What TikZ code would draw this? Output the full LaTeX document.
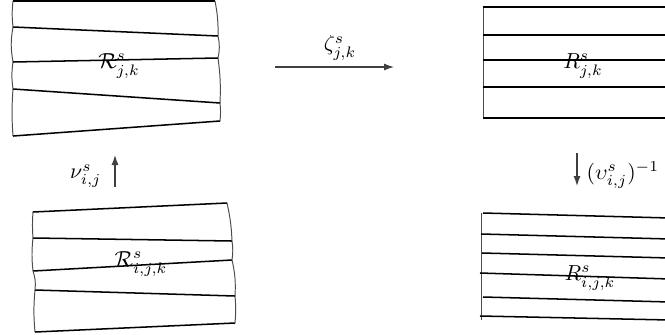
\documentclass[tikz,border=0pt]{standalone}
\usetikzlibrary{arrows.meta}
\begin{document}
\begin{tikzpicture}[x=0.46pt,y=-0.46pt,
  strip/.style={line width=0.7pt,black},
  edge/.style={line width=0.45pt,black!70},
  maparrow/.style={line width=0.5pt,black!75,-{Latex[length=4.6pt,width=3.2pt]}},
  lab/.style={inner sep=1pt}]
\useasboundingbox (0,0) rectangle (665,334);
\clip (0,0) rectangle (665,334);
% ---- top-left box
\draw[strip] (13,1) -- (215,1);
\draw[strip] (13,27) -- (218,36);
\draw[strip] (13,62) -- (218,58);
\draw[strip] (13,89) -- (220,103);
\draw[strip] (13,136) -- (220,121);
\draw[edge] (13,1) to[bend right=6] (13,27) to[bend right=10] (13,62) to[bend right=8] (13,89) to[bend right=4] (13,136);
\draw[edge] (215,1) to[bend left=6] (218,36) to[bend left=12] (218,58) to[bend left=5] (220,103) to[bend left=6] (220,121);
\node[lab] (Rjk) at (119,66) {$\mathcal{R}^s_{j,k}$};
% ---- bottom-left box
\draw[strip] (33,212) -- (227,203);
\draw[strip] (33,238) -- (232,241);
\draw[strip] (33,271) -- (232,260);
\draw[strip] (35,290) -- (235,296);
\draw[strip] (35,332) -- (235,323);
\draw[edge] (33,212) to[bend right=4] (33,238) to[bend right=6] (33,271) to[bend left=12] (35,290) to[bend right=5] (35,332);
\draw[edge] (227,203) to[bend left=5] (232,241) to[bend left=8] (232,260) to[bend left=8] (235,296) to[bend left=5] (235,323);
\node[lab] (Rijk) at (141,264) {$\mathcal{R}^s_{i,j,k}$};
% ---- top-right box
\draw[edge] (483,7) -- (483,119);
\draw[strip] (483,7) -- (670,7);
\draw[strip] (483,35) -- (670,35);
\draw[strip] (483,60) -- (670,60);
\draw[strip] (483,87) -- (670,87);
\draw[strip] (483,118) -- (670,118);
\node[lab] (Sjk) at (583,66) {$R^s_{j,k}$};
% ---- bottom-right box
\draw[edge] (481,213) -- (481,320);
\draw[strip] (483,213) -- (670,218);
\draw[strip] (481,234) -- (670,239);
\draw[strip] (482,253) -- (670,258);
\draw[strip] (480,273) -- (670,279);
\draw[strip] (483,297) -- (670,302);
\draw[strip] (480,316) -- (670,320);
\node[lab] (Sijk) at (590,278) {$R^s_{i,j,k}$};
% ---- arrows
\coordinate (zs) at (275,67);
\coordinate (ze) at (394,67);
\draw[maparrow] (zs) -- (ze);
\node[lab] (zeta) at (340,48) {$\zeta^s_{j,k}$};
\coordinate (ns) at (115,187);
\coordinate (ne) at (115,155);
\draw[maparrow] (ns) -- (ne);
\node[lab,anchor=east] (nu) at (104,176) {$\nu^s_{i,j}$};
\coordinate (us) at (577,153);
\coordinate (ue) at (577,186);
\draw[maparrow] (us) -- (ue);
\node[lab,anchor=west] (ups) at (584,175) {$(\upsilon^s_{i,j})^{-1}$};
\end{tikzpicture}
\end{document}
